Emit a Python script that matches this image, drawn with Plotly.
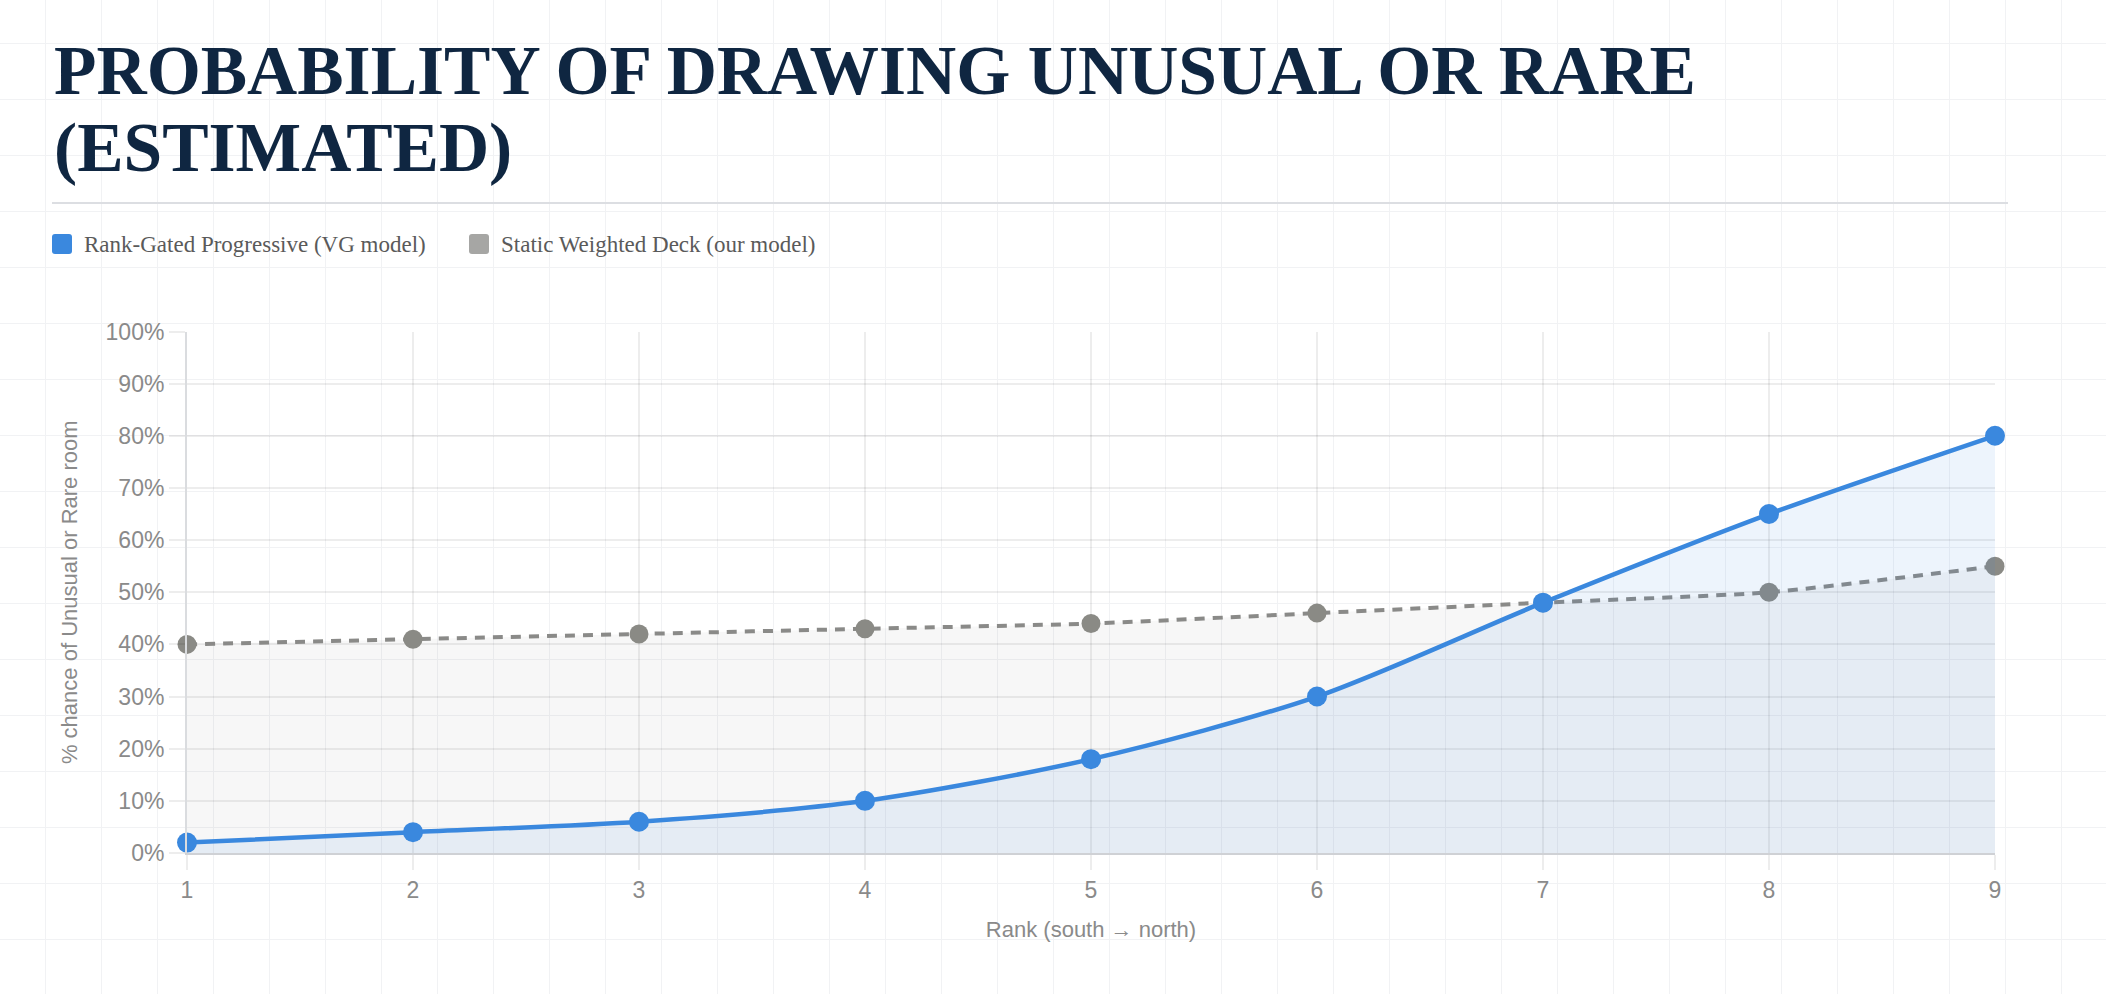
import plotly.graph_objects as go

# ---------------- data ----------------
ranks = [1, 2, 3, 4, 5, 6, 7, 8, 9]
vg_model = [2, 4, 6, 10, 18, 30, 48, 65, 80]          # Rank-Gated Progressive (VG model)
our_model = [40, 41, 42, 43, 44, 46, 48, 50, 55]      # Static Weighted Deck (our model)
y_ticks = [0, 10, 20, 30, 40, 50, 60, 70, 80, 90, 100]
title_lines = ["PROBABILITY OF DRAWING UNUSUAL OR RARE", "(ESTIMATED)"]
legend_names = ["Rank-Gated Progressive (VG model)", "Static Weighted Deck (our model)"]
x_title = "Rank (south → north)"
y_title = "% chance of Unusual or Rare room"

# ---------------- styling ----------------
W, H = 2106, 994
BLUE = "#3a88de"
GRAY_LINE = "#8a8a88"
GRAY_MARK = "#8a8a85"
GRID = "rgba(0,0,0,0.07)"
PAGE_GRID = "#f1f2f4"
TICK_COLOR = "#8a8a8a"
NAVY = "#0f2641"

def px_x(p):
    return p / W

def px_y(p):
    return 1 - p / H

fig = go.Figure()

# invisible trace for the page-background grid subplot
fig.add_trace(go.Scatter(x=[], y=[], xaxis="x", yaxis="y", showlegend=False, hoverinfo="skip"))

fig.add_trace(go.Scatter(
    x=ranks, y=our_model, name=legend_names[1], xaxis="x2", yaxis="y2",
    mode="lines+markers", fill="tozeroy", fillcolor="rgba(120,120,120,0.06)",
    line=dict(color=GRAY_LINE, width=4, dash="10px,8px", shape="spline", smoothing=0.6),
    marker=dict(size=19, color=GRAY_MARK), cliponaxis=False, showlegend=False,
))
fig.add_trace(go.Scatter(
    x=ranks, y=vg_model, name=legend_names[0], xaxis="x2", yaxis="y2",
    mode="lines+markers", fill="tozeroy", fillcolor="rgba(58,136,222,0.09)",
    line=dict(color=BLUE, width=4.5, shape="spline", smoothing=0.8),
    marker=dict(size=20, color=BLUE), cliponaxis=False, showlegend=False,
))

shapes = [
    # rule under title
    dict(type="line", xref="paper", yref="paper", x0=px_x(52), x1=px_x(2008),
         y0=px_y(203), y1=px_y(203), line=dict(color="#dcdee2", width=2)),
]

def rounded_rect(x0, y0, x1, y1, r, color):
    X0, X1 = px_x(x0), px_x(x1)
    rx, ry = r / W, r / H
    Y0, Y1 = px_y(y1), px_y(y0)  # bottom, top
    path = (f"M {X0+rx},{Y0} L {X1-rx},{Y0} Q {X1},{Y0} {X1},{Y0+ry} "
            f"L {X1},{Y1-ry} Q {X1},{Y1} {X1-rx},{Y1} L {X0+rx},{Y1} "
            f"Q {X0},{Y1} {X0},{Y1-ry} L {X0},{Y0+ry} Q {X0},{Y0} {X0+rx},{Y0} Z")
    return dict(type="path", xref="paper", yref="paper", path=path,
                fillcolor=color, line=dict(width=0))

shapes.append(rounded_rect(52, 234, 72, 254, 3, BLUE))
shapes.append(rounded_rect(469, 234, 489, 254, 3, "#a6a6a4"))

annotations = [
    dict(text=title_lines[0], xref="paper", yref="paper", x=px_x(52), y=px_y(71),
         xanchor="left", yanchor="middle", showarrow=False,
         font=dict(family="Liberation Serif", size=69.5, color=NAVY, weight="bold")),
    dict(text=title_lines[1], xref="paper", yref="paper", x=px_x(52), y=px_y(148),
         xanchor="left", yanchor="middle", showarrow=False,
         font=dict(family="Liberation Serif", size=69.5, color=NAVY, weight="bold")),
    dict(text=legend_names[0], xref="paper", yref="paper", x=px_x(82), y=px_y(244),
         xanchor="left", yanchor="middle", showarrow=False,
         font=dict(family="Liberation Serif", size=23, color="#5a5a5a")),
    dict(text=legend_names[1], xref="paper", yref="paper", x=px_x(499), y=px_y(244),
         xanchor="left", yanchor="middle", showarrow=False,
         font=dict(family="Liberation Serif", size=23, color="#5a5a5a")),
]

tick_font = dict(family="Liberation Sans", size=23, color=TICK_COLOR)
title_font = dict(family="Liberation Sans", size=22, color=TICK_COLOR)

fig.update_layout(
    template="none",
    width=W, height=H,
    autosize=False,
    margin=dict(l=0, r=0, t=0, b=0, pad=0),
    paper_bgcolor="white",
    plot_bgcolor="rgba(0,0,0,0)",
    showlegend=False,
    shapes=shapes,
    annotations=annotations,
    xaxis=dict(domain=[0, 1], range=[0, W], tick0=45, dtick=56, showgrid=True,
               gridcolor=PAGE_GRID, gridwidth=1, showticklabels=False, zeroline=False,
               showline=False, ticks="", fixedrange=True, anchor="y", automargin=False),
    yaxis=dict(domain=[0, 1], range=[H, 0], tick0=43, dtick=56, showgrid=True,
               gridcolor=PAGE_GRID, gridwidth=1, showticklabels=False, zeroline=False,
               showline=False, ticks="", fixedrange=True, anchor="x", automargin=False),
    xaxis2=dict(domain=[px_x(187), px_x(1995)], range=[1, 9], anchor="y2",
                tickmode="array", tickvals=ranks, ticktext=[str(r) for r in ranks],
                showgrid=True, gridcolor=GRID, gridwidth=1.5,
                ticks="outside", ticklen=15, tickcolor=GRID, tickwidth=1.5,
                tickfont=tick_font, zeroline=False, automargin=False,
                showline=True, linecolor="#cfd1d5", linewidth=2,
                title=dict(text=x_title, font=title_font, standoff=20)),
    yaxis2=dict(domain=[px_y(853), px_y(331.5)], range=[0, 100], anchor="x2",
                tickmode="array", tickvals=y_ticks, ticktext=[f"{v}%" for v in y_ticks],
                showgrid=True, gridcolor=GRID, gridwidth=1.5,
                ticks="outside", ticklen=16, tickcolor=GRID, tickwidth=1.5,
                tickfont=tick_font, zeroline=False, automargin=False,
                showline=True, linecolor="#dadcdf", linewidth=2,
                title=dict(text=y_title, font=title_font, standoff=22)),
)

fig.write_html("out.html")
